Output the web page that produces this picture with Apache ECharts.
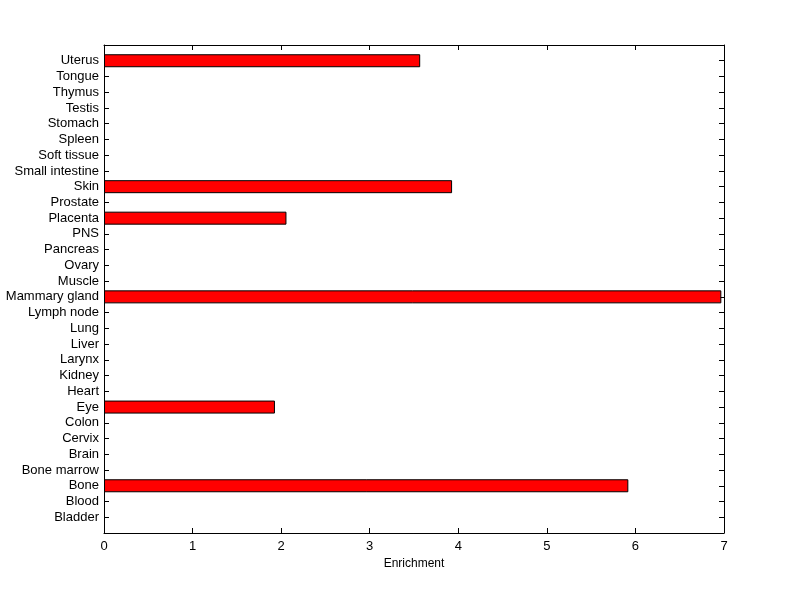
<!DOCTYPE html>
<html><head><meta charset="utf-8">
<script src="https://cdn.jsdelivr.net/npm/echarts@6/dist/echarts.min.js"></script>
<style>html,body{margin:0;padding:0;background:#fff}#c{width:800px;height:599px}</style>
</head><body><div id="c"></div>
<script>
const categories = ['Bladder','Blood','Bone','Bone marrow','Brain','Cervix','Colon','Eye','Heart','Kidney','Larynx','Liver','Lung','Lymph node','Mammary gland','Muscle','Ovary','Pancreas','PNS','Placenta','Prostate','Skin','Small intestine','Soft tissue','Spleen','Stomach','Testis','Thymus','Tongue','Uterus'];
const enrichment = [0,0,5.92,0,0,0,0,1.93,0,0,0,0,0,0,6.97,0,0,0,0,2.06,0,3.93,0,0,0,0,0,0,0,3.57];
const xTicks = [0,1,2,3,4,5,6,7];

const axisCats = [''].concat(categories).concat(['']);
const barData = [null].concat(enrichment.map(v => v === 0 ? null : v)).concat([null]);
const font = {fontFamily:'Liberation Sans', fontSize:13, color:'#000'};
const line = {show:true,onZero:false,lineStyle:{color:'#000',width:1}};
const tick = {show:true,inside:true,length:5,lineStyle:{color:'#000',width:1}};
const xBase = {type:'value',min:xTicks[0],max:xTicks[xTicks.length-1],interval:1,splitLine:{show:false}};
const yBase = {type:'category',data:axisCats,boundaryGap:false,splitLine:{show:false}};
const chart = echarts.init(document.getElementById('c'), null, {renderer:'canvas'});
chart.setOption({
  animation:false,
  backgroundColor:'#fff',
  grid:{left:104,right:76,top:45,bottom:66,containLabel:false},
  xAxis:[
    Object.assign({position:'bottom',
      name:'Enrichment',nameLocation:'middle',nameGap:25,nameTextStyle:{fontFamily:'Liberation Sans',fontSize:12,color:'#000'},
      axisLine:line,axisTick:tick,axisLabel:Object.assign({margin:7},font)},xBase),
    Object.assign({position:'top',axisLine:line,axisTick:tick,axisLabel:{show:false}},xBase)
  ],
  yAxis:[
    Object.assign({position:'left',axisLine:line,axisTick:Object.assign({interval:0},tick),
      axisLabel:Object.assign({interval:0,margin:5},font)},yBase),
    Object.assign({position:'right',axisLine:line,axisTick:Object.assign({interval:0},tick),axisLabel:{show:false}},yBase)
  ],
  series:[{
    type:'bar',xAxisIndex:0,yAxisIndex:0,data:barData,barWidth:13,
    itemStyle:{color:'#ff0000',borderColor:'#000',borderWidth:1}
  }]
});
</script></body></html>
